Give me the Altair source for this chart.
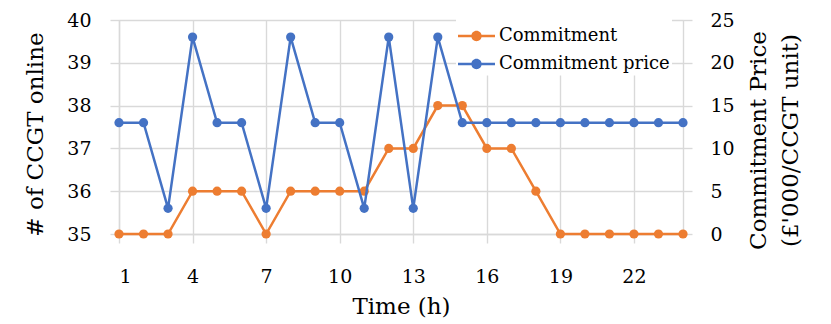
import altair as alt
import pandas as pd

hours = list(range(1, 25))
commitment = [35, 35, 35, 36, 36, 36, 35, 36, 36, 36, 36, 37, 37, 38, 38, 37, 37, 36, 35, 35, 35, 35, 35, 35]
price = [13, 13, 3, 23, 13, 13, 3, 23, 13, 13, 3, 23, 3, 23, 13, 13, 13, 13, 13, 13, 13, 13, 13, 13]
series_names = ["Commitment", "Commitment price"]
series_colors = ["#ED7D31", "#4472C4"]
x_ticks = [1, 4, 7, 10, 13, 16, 19, 22]
left_ticks = [35, 36, 37, 38, 39, 40]
right_ticks = [0, 5, 10, 15, 20, 25]

df_c = pd.DataFrame({"hour": hours, "value": commitment, "series": series_names[0]})
df_p = pd.DataFrame({"hour": hours, "value": price, "series": series_names[1]})

FONT = "DejaVu Serif"
GRID = "#d9d9d9"
LABEL_SIZE = 19
TITLE_SIZE = 23

color = alt.Color(
    "series:N",
    scale=alt.Scale(domain=series_names, range=series_colors),
    legend=alt.Legend(
        title=None,
        orient="none",
        legendX=337,
        legendY=-4.5,
        padding=2,
        fillColor="white",
        symbolType="M-1,-0.068L1,-0.068L1,0.068L-1,0.068Z M-0.28,0A0.28,0.28,0,1,1,0.28,0A0.28,0.28,0,1,1,-0.28,0Z",
        symbolSize=1369,
        symbolStrokeWidth=0,
        symbolOpacity=1,
        labelFont=FONT,
        labelFontSize=18,
        labelColor="black",
        labelOffset=4,
        rowPadding=0,
        labelLimit=400,
    ),
)

x_enc = alt.X(
    "hour:Q",
    scale=alt.Scale(domain=[1, 24], nice=False, zero=False),
    axis=alt.Axis(
        values=x_ticks,
        title="Time (h)",
        grid=True,
        gridColor=GRID,
        gridWidth=1.4,
        domainColor=GRID,
        domainWidth=1.4,
        tickColor=GRID,
        tickWidth=1.4,
        tickSize=9,
        labelFont=FONT,
        labelFontSize=LABEL_SIZE,
        labelColor="black",
        labelBaseline="alphabetic",
        labelPadding=39,
        titleFont=FONT,
        titleFontSize=TITLE_SIZE,
        titleFontWeight="normal",
        titleColor="black",
        titleBaseline="alphabetic",
        titleY=79,
    ),
)

left = alt.Chart(df_c).mark_line(
    strokeWidth=2.5,
    point=alt.OverlayMarkDef(filled=True, size=85, opacity=1),
).encode(
    x=x_enc,
    y=alt.Y(
        "value:Q",
        scale=alt.Scale(domain=[35, 40], nice=False, zero=False),
        axis=alt.Axis(
            orient="left",
            values=left_ticks,
            title="# of CCGT online",
            grid=True,
            gridColor=GRID,
            gridWidth=1.4,
            domainColor=GRID,
            domainWidth=1.4,
            tickColor=GRID,
            tickWidth=1.4,
            tickSize=9,
            labelFont=FONT,
            labelFontSize=LABEL_SIZE,
            labelColor="black",
            labelPadding=19,
            titleFont=FONT,
            titleFontSize=TITLE_SIZE,
            titleFontWeight="normal",
            titleColor="black",
            titleAngle=270,
            titleBaseline="alphabetic",
            titleAlign="center",
            titleX=-77,
            titleY=114,
        ),
    ),
    color=color,
)

right = alt.Chart(df_p).mark_line(
    strokeWidth=2.5,
    point=alt.OverlayMarkDef(filled=True, size=85, opacity=1),
).encode(
    x=x_enc,
    y=alt.Y(
        "value:Q",
        scale=alt.Scale(domain=[0, 25], nice=False, zero=False),
        axis=alt.Axis(
            orient="right",
            values=right_ticks,
            title=["Commitment Price", "(£'000/CCGT unit)"],
            grid=False,
            domainColor=GRID,
            domainWidth=1.4,
            tickColor=GRID,
            tickWidth=1.4,
            tickSize=9,
            labelFont=FONT,
            labelFontSize=LABEL_SIZE,
            labelColor="black",
            labelPadding=18,
            titleFont=FONT,
            titleFontSize=TITLE_SIZE,
            titleFontWeight="normal",
            titleColor="black",
            titleAngle=270,
            titleBaseline="alphabetic",
            titleAlign="center",
            titleLineHeight=32,
            titleX=82,
            titleY=120,
        ),
    ),
    color=color,
)

chart = alt.layer(left, right).resolve_scale(y="independent").properties(
    width=564,
    height=214,
    autosize=alt.AutoSizeParams(type="none"),
    padding={"left": 111, "top": 12, "right": 140, "bottom": 86},
).configure_view(stroke=None).configure(font=FONT)

chart.save("out.html", embed_options={"renderer": "svg", "actions": False})
